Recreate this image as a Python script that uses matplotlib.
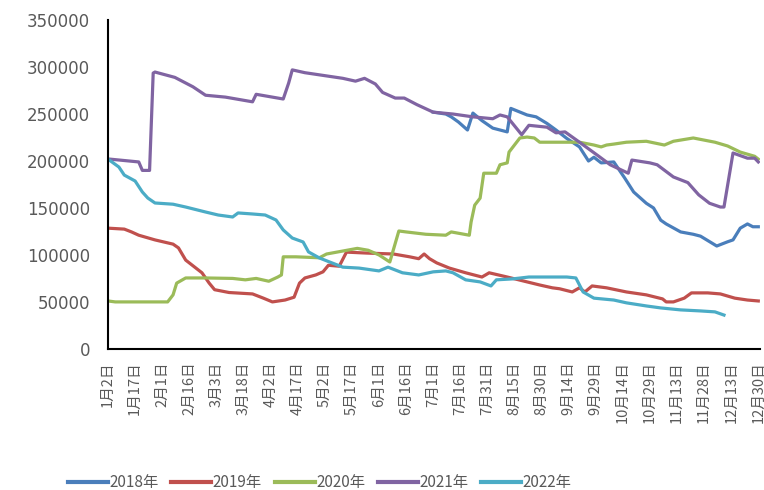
import numpy as np
import matplotlib
matplotlib.use('Agg')
import matplotlib.pyplot as plt

plt.rcParams['font.family'] = ['DejaVu Sans', 'Noto Sans CJK SC']

# 日序号（从1月2日起算）与对应数值
x_2018 = [180, 187, 190, 194, 199, 202, 207, 213, 221, 223, 232, 237, 243, 248, 254, 261, 266,
          269, 273, 280, 286, 291, 298, 302, 306, 309, 317, 324, 328, 337, 343, 346, 350, 354,
          357, 360]
y_2018 = [252000, 250000, 247000, 241500, 233000, 251000, 243000, 235000, 231000, 256000,
          249000, 247000, 240000, 233000, 224000, 215000, 200000, 204000, 198000, 199000,
          182000, 167000, 155000, 150000, 137000, 133000, 124500, 122000, 120000, 109500,
          114000, 116000, 128500, 133000, 130000, 130000]

x_2019 = [0, 9, 13, 17, 26, 36, 39, 43, 48, 52, 56, 59, 67, 80, 86, 91, 98, 103, 106, 109, 115,
          119, 122, 128, 132, 143, 158, 167, 172, 175, 178, 182, 189, 198, 207, 209, 211, 221,
          232, 239, 246, 250, 257, 261, 264, 268, 276, 287, 298, 307, 309, 313, 319, 323, 332,
          339, 347, 354, 360]
y_2019 = [128500, 127500, 124500, 121000, 116000, 111500, 107500, 94500, 87000, 81000, 70000,
          63000, 60000, 58500, 54000, 50000, 52000, 55000, 70000, 75500, 78700, 82000, 89000,
          88000, 103000, 102000, 101000, 98000, 96000, 101000, 96000, 91500, 86000, 81000,
          76500, 78700, 81000, 76500, 71300, 68000, 65000, 64000, 60600, 65000, 60600, 67000,
          65000, 60600, 57500, 53200, 50000, 50000, 54000, 59600, 59600, 58500, 54000, 52000,
          51000]

x_2020 = [0, 4, 21, 33, 36, 38, 43, 54, 69, 76, 82, 89, 94, 96, 97, 104, 117, 121, 138, 144,
          150, 156, 161, 165, 176, 187, 190, 200, 201, 203, 206, 208, 215, 217, 221, 222, 225,
          228, 232, 236, 239, 261, 269, 273, 276, 280, 287, 298, 308, 313, 324, 336, 343, 350,
          358, 360]
y_2020 = [51000, 50000, 50000, 50000, 57500, 70000, 75500, 75500, 75000, 73500, 75000, 72000,
          76500, 78700, 98000, 98000, 97000, 101000, 107000, 105000, 100000, 92500, 125500,
          124500, 122000, 121000, 124500, 121000, 135000, 153000, 160500, 187000, 187000,
          196000, 198000, 209500, 217000, 224500, 225500, 224500, 220000, 220000, 217000,
          215000, 217000, 218000, 220000, 221000, 217000, 221000, 224500, 220000, 216000,
          209500, 205000, 202000]

x_2021 = [0, 1, 17, 19, 23, 25, 26, 37, 42, 47, 54, 65, 80, 82, 94, 97, 100, 102, 109, 123, 130,
          137, 142, 148, 152, 159, 164, 171, 180, 191, 202, 213, 217, 221, 229, 233, 243, 248,
          253, 261, 271, 278, 288, 290, 300, 304, 313, 321, 327, 333, 339, 341, 346, 354, 358,
          360]
y_2021 = [202000, 202000, 199000, 190000, 190000, 293600, 294700, 289000, 284000, 279000,
          270000, 268000, 263000, 271000, 267000, 266000, 283000, 297000, 294000, 290000,
          288000, 285000, 288000, 282000, 273000, 267000, 267000, 260000, 252000, 250000,
          247000, 245000, 249000, 247000, 228000, 238000, 236000, 230000, 231000, 220000,
          206000, 196000, 187000, 201000, 198000, 196000, 183000, 177000, 164000, 155000,
          151000, 151000, 208500, 203000, 203000, 199000]

x_2022 = [0, 6, 9, 15, 19, 22, 26, 36, 43, 54, 61, 69, 72, 80, 87, 93, 97, 102, 108, 111, 117,
          122, 130, 139, 150, 155, 163, 172, 180, 187, 191, 198, 206, 212, 215, 224, 233, 254,
          259, 263, 269, 280, 287, 298, 306, 317, 328, 336, 341]
y_2022 = [202000, 193600, 185000, 178700, 167000, 160600, 155300, 154000, 151000, 145700,
          142500, 140400, 144700, 143600, 142500, 137200, 126600, 118000, 113800, 103200,
          96800, 93000, 87000, 86000, 83000, 87000, 81000, 78700, 82000, 83000, 81000, 73500,
          71300, 67000, 73500, 74500, 76500, 76500, 75500, 60600, 54000, 52000, 49000, 45700,
          43600, 41500, 40400, 39400, 36000]

series = [
    ('2018年', x_2018, y_2018, '#4A7EBB'),
    ('2019年', x_2019, y_2019, '#C0504D'),
    ('2020年', x_2020, y_2020, '#9BBB59'),
    ('2021年', x_2021, y_2021, '#8064A2'),
    ('2022年', x_2022, y_2022, '#4BACC6'),
]

tick_pos = list(range(0, 346, 15)) + [360]
tick_labels = ['1月2日', '1月17日', '2月1日', '2月16日', '3月3日', '3月18日', '4月2日',
               '4月17日', '5月2日', '5月17日', '6月1日', '6月16日', '7月1日', '7月16日',
               '7月31日', '8月15日', '8月30日', '9月14日', '9月29日', '10月14日', '10月29日',
               '11月13日', '11月28日', '12月13日', '12月30日']

fig = plt.figure(figsize=(7.64, 4.90), dpi=100)
ax = fig.add_axes([0.1414, 0.288, 0.8535, 0.671])

for name, xs, ys, color in series:
    ax.plot(xs, ys, color=color, lw=2.3, label=name, solid_joinstyle='round')

ax.set_xlim(0, 361)
ax.set_ylim(0, 350000)
ax.set_yticks(np.arange(0, 350001, 50000))
ax.tick_params(axis='y', length=0, pad=13, labelsize=12, labelcolor='#595959')
ax.set_xticks(tick_pos)
ax.set_xticklabels(tick_labels, rotation=90, family=['Noto Sans CJK SC', 'DejaVu Sans'],
                   fontsize=10.5, color='#595959')
ax.tick_params(axis='x', length=0, pad=9)

for side in ['top', 'right']:
    ax.spines[side].set_visible(False)
ax.spines['left'].set_linewidth(1.5)
ax.spines['bottom'].set_linewidth(1.5)
ax.spines['left'].set_color('black')
ax.spines['bottom'].set_color('black')

leg = fig.legend(loc='center left', bbox_to_anchor=(0.071, 0.015), ncol=5, frameon=False,
                 handlelength=2.6, handletextpad=0.1, columnspacing=0.85,
                 prop={'family': ['Noto Sans CJK SC', 'DejaVu Sans'], 'size': 11})
for t in leg.get_texts():
    t.set_color('#595959')
for h in leg.legend_handles:
    h.set_linewidth(3)

fig.savefig('out.png', dpi=100)
